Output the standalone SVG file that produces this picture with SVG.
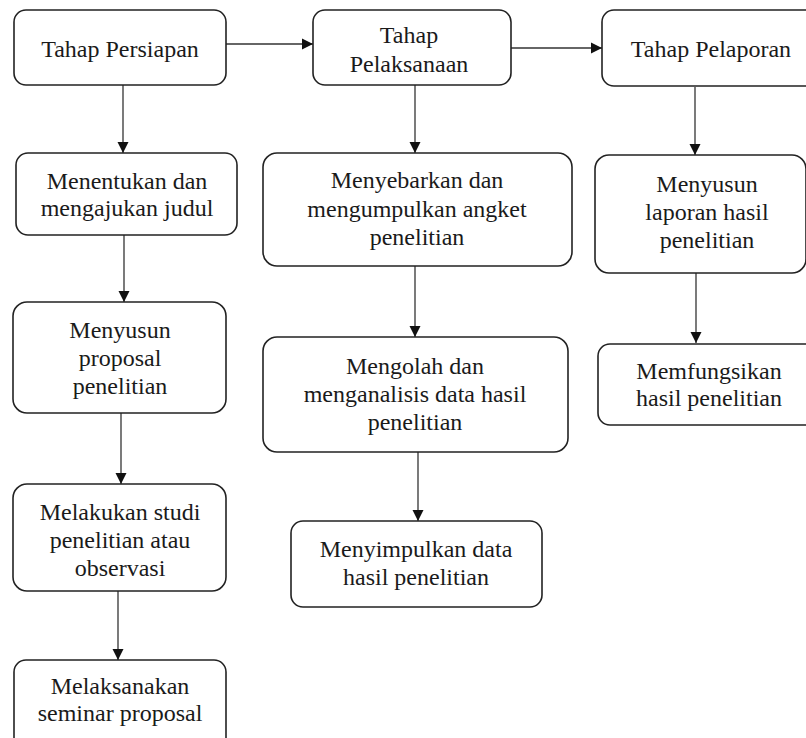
<svg xmlns="http://www.w3.org/2000/svg" width="806" height="738" viewBox="0 0 806 738">
<defs>
<style>
.box{fill:#ffffff;stroke:#222222;stroke-width:1.6}
.t{font-size:24px;fill:#1a1a1a;text-anchor:middle}
.c{stroke:#333333;stroke-width:1.3;fill:none;marker-end:url(#ah)}
</style>
<marker id="ah" markerUnits="userSpaceOnUse" markerWidth="12" markerHeight="12" refX="11" refY="6" orient="auto">
<path d="M0,0.5 L11,6 L0,11.5 Z" fill="#111111"/>
</marker>
</defs>
<rect width="806" height="738" fill="#ffffff"/>
<g id="connectors">
<line class="c" x1="226" y1="44" x2="313" y2="44"/>
<line class="c" x1="511" y1="48" x2="602" y2="48"/>
<line class="c" x1="123" y1="85" x2="123" y2="153"/>
<line class="c" x1="415" y1="85" x2="415" y2="153"/>
<line class="c" x1="695" y1="87" x2="695" y2="155"/>
<line class="c" x1="124" y1="235" x2="124" y2="302"/>
<line class="c" x1="415" y1="266" x2="415" y2="337"/>
<line class="c" x1="696" y1="273" x2="696" y2="343"/>
<line class="c" x1="121" y1="413" x2="121" y2="484"/>
<line class="c" x1="418" y1="452" x2="418" y2="521"/>
<line class="c" x1="118" y1="591" x2="118" y2="660"/>
</g>
<g font-family="Liberation Serif, serif">
<g id="persiapan">
<rect class="box" x="14" y="10" width="212" height="75" rx="12"/>
<text class="t" x="120" y="57">Tahap Persiapan</text>
</g>
<g id="pelaksanaan">
<rect class="box" x="313" y="10" width="198" height="75" rx="12"/>
<text class="t" x="409" y="43">Tahap</text>
<text class="t" x="409" y="72">Pelaksanaan</text>
</g>
<g id="pelaporan">
<rect class="box" x="602" y="10" width="230" height="76" rx="12"/>
<text class="t" x="711" y="57">Tahap Pelaporan</text>
</g>
<g id="menentukan">
<rect class="box" x="16" y="153" width="221" height="82" rx="12"/>
<text class="t" x="127" y="189">Menentukan dan</text>
<text class="t" x="127" y="216">mengajukan judul</text>
</g>
<g id="menyebarkan">
<rect class="box" x="263" y="153" width="309" height="113" rx="14"/>
<text class="t" x="417" y="188">Menyebarkan dan</text>
<text class="t" x="417" y="217">mengumpulkan angket</text>
<text class="t" x="417" y="245">penelitian</text>
</g>
<g id="menyusun-laporan">
<rect class="box" x="595" y="155" width="211" height="118" rx="14"/>
<text class="t" x="707" y="192">Menyusun</text>
<text class="t" x="707" y="220">laporan hasil</text>
<text class="t" x="707" y="248">penelitian</text>
</g>
<g id="menyusun-proposal">
<rect class="box" x="13" y="302" width="213" height="111" rx="14"/>
<text class="t" x="120" y="338">Menyusun</text>
<text class="t" x="120" y="366">proposal</text>
<text class="t" x="120" y="394">penelitian</text>
</g>
<g id="mengolah">
<rect class="box" x="263" y="337" width="305" height="115" rx="14"/>
<text class="t" x="415" y="374">Mengolah dan</text>
<text class="t" x="415" y="402">menganalisis data hasil</text>
<text class="t" x="415" y="430">penelitian</text>
</g>
<g id="memfungsikan">
<rect class="box" x="598" y="344" width="232" height="81" rx="12"/>
<text class="t" x="709" y="379">Memfungsikan</text>
<text class="t" x="709" y="406">hasil penelitian</text>
</g>
<g id="melakukan">
<rect class="box" x="13" y="484" width="213" height="107" rx="14"/>
<text class="t" x="120" y="520">Melakukan studi</text>
<text class="t" x="120" y="548">penelitian atau</text>
<text class="t" x="120" y="576">observasi</text>
</g>
<g id="menyimpulkan">
<rect class="box" x="291" y="521" width="251" height="86" rx="12"/>
<text class="t" x="416" y="557">Menyimpulkan data</text>
<text class="t" x="416" y="585">hasil penelitian</text>
</g>
<g id="melaksanakan">
<rect class="box" x="14" y="660" width="212" height="95" rx="12"/>
<text class="t" x="120" y="694">Melaksanakan</text>
<text class="t" x="120" y="721">seminar proposal</text>
</g>
</g>
</svg>
